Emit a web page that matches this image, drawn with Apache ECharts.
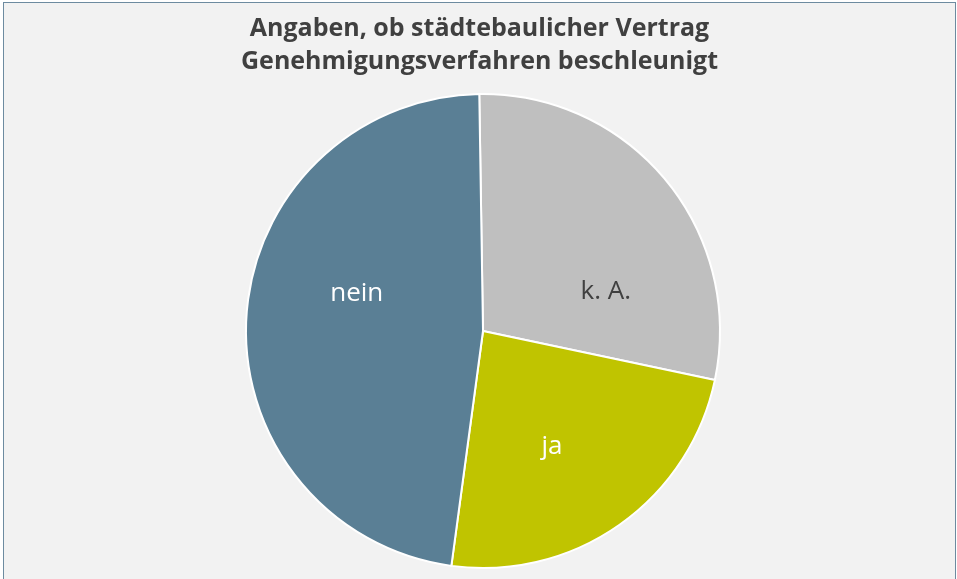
<!DOCTYPE html>
<html>
<head>
<meta charset="utf-8">
<script src="https://cdn.jsdelivr.net/npm/echarts@6/dist/echarts.min.js"></script>
<style>
  html, body { margin: 0; padding: 0; background: #ffffff; }
  #frame {
    position: absolute;
    left: 3px;
    top: 2px;
    width: 951px;
    height: 585px;
    border: 1px solid #6d8ba0;
    background: #f2f2f2;
  }
  #chart { width: 951px; height: 585px; }
</style>
</head>
<body>
<div id="frame"><div id="chart"></div></div>
<script>
// categories in drawing order (clockwise from 12 o'clock)
const categories = ["k. A.", "ja", "nein"];
const values = [6, 5, 10];
const colors = ["#bfbfbf", "#c0c400", "#5a7f95"];
const labelColors = ["#404040", "#ffffff", "#ffffff"];
// nudges so the labels sit where the original put them
const labelOffsets = [[29, 38], [-1, 16], [-5, -30]];

const chart = echarts.init(document.getElementById("chart"));

const option = {
  animation: false,
  title: {
    text: "Angaben, ob städtebaulicher Vertrag\nGenehmigungsverfahren beschleunigt",
    left: "center",
    top: 4,
    textStyle: {
      fontFamily: "Open Sans",
      fontWeight: "bold",
      fontSize: 25,
      lineHeight: 33,
      color: "#404040",
    },
  },
  series: [
    {
      type: "pie",
      center: [479, 328],
      radius: 237,
      startAngle: 90.9,
      clockwise: true,
      itemStyle: {
        borderColor: "#ffffff",
        borderWidth: 2,
      },
      label: {
        position: "inside",
        fontFamily: "Open Sans",
        fontSize: 26,
        formatter: "{b}",
      },
      labelLine: { show: false },
      emphasis: { disabled: true },
      data: categories.map((name, i) => ({
        name: name,
        value: values[i],
        itemStyle: { color: colors[i] },
        label: { color: labelColors[i], offset: labelOffsets[i] },
      })),
    },
  ],
};

chart.setOption(option);
</script>
</body>
</html>
